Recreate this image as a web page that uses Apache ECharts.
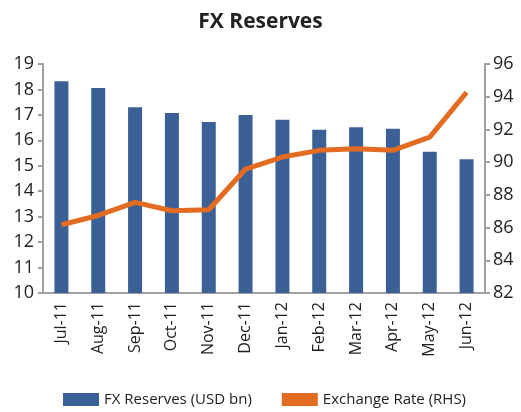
<!DOCTYPE html>
<html>
<head>
<meta charset="utf-8">
<script src="https://cdn.jsdelivr.net/npm/echarts@6/dist/echarts.min.js"></script>
<style>
  html, body { margin: 0; padding: 0; background: #fff; }
  #chart { width: 521px; height: 412px; }
</style>
</head>
<body>
<div id="chart"></div>
<script>
// months on the category axis
var months = ['Jul-11', 'Aug-11', 'Sep-11', 'Oct-11', 'Nov-11', 'Dec-11',
              'Jan-12', 'Feb-12', 'Mar-12', 'Apr-12', 'May-12', 'Jun-12'];
// FX reserves, USD bn (left axis)
var reserves = [18.32, 18.06, 17.30, 17.07, 16.72, 17.00, 16.81, 16.42, 16.51, 16.46, 15.55, 15.26];
// exchange rate (right axis)
var fxRate = [86.17, 86.74, 87.54, 87.03, 87.09, 89.58, 90.31, 90.72, 90.82, 90.72, 91.53, 94.26];

var font = 'Open Sans, Noto Sans, sans-serif';
var axisGrey = '#a0a0a0';

var chart = echarts.init(document.getElementById('chart'));
chart.setOption({
  animation: false,
  title: {
    text: 'FX Reserves',
    left: 'center',
    top: 7,
    textStyle: { fontFamily: font, fontSize: 21, fontWeight: 'bold', color: '#222' }
  },
  legend: {
    bottom: 0,
    left: 58,
    itemGap: 30,
    itemWidth: 36,
    itemHeight: 13,
    textStyle: { fontFamily: font, fontSize: 15, color: '#222' },
    data: [
      { name: 'FX Reserves (USD bn)', icon: 'rect' },
      { name: 'Exchange Rate (RHS)', icon: 'rect', itemStyle: { color: '#E46C22' } }
    ]
  },
  grid: { left: 43, right: 36, top: 64, bottom: 119 },
  xAxis: {
    type: 'category',
    data: months,
    axisLine: { lineStyle: { color: axisGrey, width: 2 } },
    axisTick: { length: 5, lineStyle: { color: axisGrey, width: 2 } },
    axisLabel: { rotate: 90, fontFamily: font, fontSize: 16, color: '#222', margin: 9 }
  },
  yAxis: [
    {
      type: 'value', min: 10, max: 19, interval: 1,
      axisLine: { show: true, lineStyle: { color: axisGrey, width: 2 } },
      axisTick: { show: true, length: 5, lineStyle: { color: axisGrey, width: 2 } },
      splitLine: { show: false },
      axisLabel: { fontFamily: font, fontSize: 18, color: '#222', margin: 9 }
    },
    {
      type: 'value', min: 82, max: 96, interval: 2, position: 'right',
      axisLine: { show: true, lineStyle: { color: axisGrey, width: 2 } },
      axisTick: { show: true, length: 5, lineStyle: { color: axisGrey, width: 2 } },
      splitLine: { show: false },
      axisLabel: { fontFamily: font, fontSize: 18, color: '#222', margin: 8 }
    }
  ],
  series: [
    {
      name: 'FX Reserves (USD bn)',
      type: 'bar',
      data: reserves,
      barWidth: 14,
      itemStyle: { color: '#3A6096' }
    },
    {
      name: 'Exchange Rate (RHS)',
      type: 'line',
      yAxisIndex: 1,
      data: fxRate,
      symbol: 'none',
      lineStyle: { color: '#E46C22', width: 5 },
      itemStyle: { color: '#E46C22' }
    }
  ]
});
</script>
</body>
</html>
